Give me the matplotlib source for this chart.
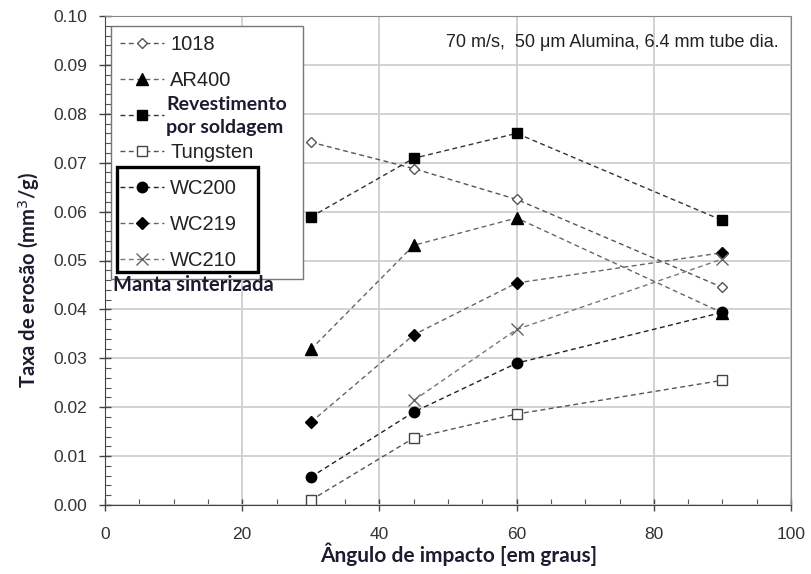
import matplotlib
matplotlib.use("Agg")
import matplotlib.pyplot as plt
import matplotlib.patches as patches
from matplotlib.ticker import MultipleLocator, FormatStrFormatter

# data
angles = [30, 45, 60, 90]
angles_wc210 = [45, 60, 90]

rate_1018 = [0.0742, 0.0688, 0.0625, 0.0445]
rate_ar400 = [0.0318, 0.0531, 0.0587, 0.0393]
rate_weld = [0.0589, 0.0709, 0.0760, 0.0582]
rate_tungsten = [0.0010, 0.0137, 0.0186, 0.0255]
rate_wc200 = [0.0057, 0.0190, 0.0290, 0.0394]
rate_wc219 = [0.0169, 0.0348, 0.0454, 0.0516]
rate_wc210 = [0.0214, 0.0359, 0.0503]

labels = ["1018", "AR400", "Revestimento\npor soldagem", "Tungsten",
          "WC200", "WC219", "WC210"]
WELD = 2  # index of the two-line bold label

BOLD_FONT = ["Lato", "DejaVu Sans"]
LABEL_COLOR = "#1c1c30"

fig = plt.figure(figsize=(8.11, 5.74), dpi=100)
ax = fig.add_axes([105 / 811, 1 - 505 / 574, 686 / 811, 489 / 574])

dash = (0, (3.5, 2.5))
common = dict(linestyle=dash, linewidth=1.0)

series = [
    (angles, rate_1018, dict(color="#555555", marker="D", markersize=5.5,
                             markerfacecolor="white", markeredgecolor="#555555")),
    (angles, rate_ar400, dict(color="#666666", marker="^", markersize=8,
                              markerfacecolor="black", markeredgecolor="black")),
    (angles, rate_weld, dict(color="#333333", marker="s", markersize=7.5,
                             markerfacecolor="black", markeredgecolor="black")),
    (angles, rate_tungsten, dict(color="#555555", marker="s", markersize=7.5,
                                 markerfacecolor="white", markeredgecolor="#444444")),
    (angles, rate_wc200, dict(color="#222222", marker="o", markersize=7.5,
                              markerfacecolor="black", markeredgecolor="black")),
    (angles, rate_wc219, dict(color="#666666", marker="D", markersize=6,
                              markerfacecolor="black", markeredgecolor="black")),
    (angles_wc210, rate_wc210, dict(color="#777777", marker="x", markersize=8,
                                    markeredgecolor="#666666", markeredgewidth=1.0)),
]

handles = []
for (x, y, style), lab in zip(series, labels):
    h, = ax.plot(x, y, label=lab, zorder=3, **common, **style)
    handles.append(h)

ax.set_xlim(0, 100)
ax.set_ylim(0, 0.10)
ax.xaxis.set_major_locator(MultipleLocator(20))
ax.xaxis.set_minor_locator(MultipleLocator(5))
ax.yaxis.set_major_locator(MultipleLocator(0.01))
ax.yaxis.set_minor_locator(MultipleLocator(0.002))
ax.yaxis.set_major_formatter(FormatStrFormatter("%.2f"))

ax.grid(True, which="major", color="#cfcfcf", linewidth=1.3, zorder=0)
ax.set_axisbelow(True)

ax.tick_params(which="major", direction="inout", length=8, width=1,
               color="#444444", labelsize=12.5, labelcolor="#333333")
ax.tick_params(axis="y", which="major", pad=9)
ax.tick_params(axis="x", which="major", pad=12)
ax.tick_params(which="minor", direction="in", length=4, width=0.8,
               color="#555555")
for lbl in ax.get_xticklabels() + ax.get_yticklabels():
    lbl.set_fontfamily("Liberation Sans")

for side in ["left", "bottom"]:
    ax.spines[side].set_color("#444444")
for side in ["top", "right"]:
    ax.spines[side].set_color("#888888")

ax.set_ylabel("Taxa de erosão (mm$^3$/g)", fontsize=14.5, fontweight="bold",
              family=BOLD_FONT, color=LABEL_COLOR, labelpad=8)
ax.yaxis.label.set_y(0.46)
ax.set_xlabel("Ângulo de impacto [em graus]", fontsize=15, fontweight="bold",
              family=BOLD_FONT, color=LABEL_COLOR, labelpad=0)
ax.xaxis.label.set_x(0.515)

ax.text(0.9825, 0.945, "70 m/s,  50 μm Alumina, 6.4 mm tube dia.",
        transform=ax.transAxes, ha="right", va="center", fontsize=13,
        family="Liberation Sans", color="#222222")

# legend: the bold two-line entry gets its text drawn separately
leg_labels = ["" if i == WELD else lab for i, lab in enumerate(labels)]
leg = ax.legend(handles, leg_labels, loc="upper left", mode="expand",
                bbox_to_anchor=(6 / 686, 479 / 489, 192 / 686, 0),
                borderaxespad=0, fancybox=False, edgecolor="#777777",
                framealpha=1, prop={"family": "Liberation Sans", "size": 14.5},
                handlelength=2.2, handletextpad=0.3, labelspacing=0.85,
                borderpad=0.43)
leg.get_frame().set_linewidth(1.0)
leg.set_zorder(5)
for t in leg.get_texts():
    t.set_color("#222222")

ax.text(61 / 686, 389 / 489, labels[WELD], transform=ax.transAxes,
        ha="left", va="center", fontsize=14, fontweight="bold",
        family=BOLD_FONT, color=LABEL_COLOR, linespacing=1.45, zorder=7)

# black box grouping the sintered WC grades
box = patches.Rectangle((12 / 686, 233 / 489), 141 / 686, 105 / 489,
                        transform=ax.transAxes, fill=False, edgecolor="black",
                        linewidth=2.4, zorder=6)
ax.add_patch(box)
ax.text(8 / 686, 220 / 489, "Manta sinterizada", transform=ax.transAxes,
        ha="left", va="center", fontsize=14.5, fontweight="bold",
        family=BOLD_FONT, color=LABEL_COLOR, zorder=6)

fig.savefig("out.png", dpi=100, facecolor="white")
